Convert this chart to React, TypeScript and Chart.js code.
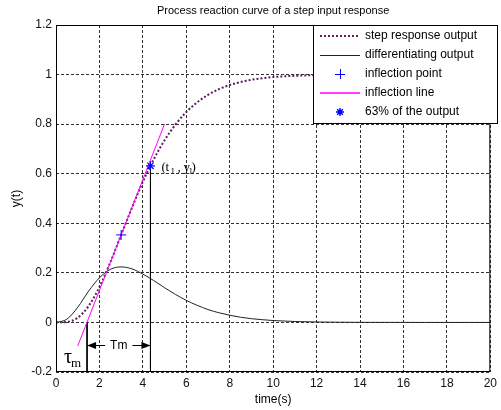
import React, { useEffect, useRef } from "react";
import { Chart, registerables } from "chart.js";

Chart.register(...registerables);

// ---- data ----
const timeValues = [0, 0.5, 1, 1.5, 2, 2.5, 3, 3.5, 4, 4.5, 5, 5.5, 6, 6.5, 7, 7.5, 8, 8.5, 9, 9.5, 10, 11, 12, 13, 14, 15, 16, 17, 18, 19, 20];
const stepResponse = [0, 0.002, 0.019, 0.066, 0.143, 0.242, 0.353, 0.463, 0.567, 0.658, 0.735, 0.798, 0.849, 0.888, 0.918, 0.941, 0.958, 0.970, 0.979, 0.985, 0.990, 0.995, 0.998, 0.999, 0.9995, 0.9998, 0.9999, 1, 1, 1, 1];
const diffOutput = [0, 0.013, 0.061, 0.126, 0.180, 0.214, 0.224, 0.216, 0.195, 0.169, 0.140, 0.113, 0.089, 0.069, 0.052, 0.039, 0.029, 0.021, 0.015, 0.011, 0.0076, 0.0037, 0.0018, 0.0008, 0.0004, 0.0002, 0.0001, 0, 0, 0, 0];
const inflectionT = [3];
const inflectionY = [0.353];
const inflectionLineT = [1, 5];
const inflectionLineY = [-0.095, 0.801];
const point63T = [4.35];
const point63Y = [0.632];
const tauMT = [1.43, 1.43];
const tauMY = [0, -0.2];
const t1LineT = [4.35, 4.35];
const t1LineY = [0.632, -0.2];
const tmArrowY = -0.09;
const xTicks = [0, 2, 4, 6, 8, 10, 12, 14, 16, 18, 20];
const xTickLabels = ["0", "2", "4", "6", "8", "10", "12", "14", "16", "18", "20"];
const yTicks = [-0.2, 0, 0.2, 0.4, 0.6, 0.8, 1, 1.2];
const yTickLabels = ["-0.2", "0", "0.2", "0.4", "0.6", "0.8", "1", "1.2"];
const legendLabels = ["step response output", "differentiating output", "inflection point", "inflection line", "63% of the output"];
const titleText = "Process reaction curve of a step input response";
const xTitle = "time(s)";
const yTitle = "y(t)";

const SANS = '"Liberation Sans", Arial, sans-serif';
const SERIF = '"Liberation Serif", "Times New Roman", serif';
const PURPLE = "#5a1f5a";
const BLUE = "#0000ff";
const MAGENTA = "#ff00ff";
const BLACK = "#000000";
const CURVE = "#222222";

const zip = (xs: number[], ys: number[]) => xs.map((v, i) => ({ x: v, y: ys[i] }));

const annotPlugin = {
  id: "annot",
  afterDatasetsDraw(chart: any) {
    const { ctx, chartArea } = chart;
    const x = chart.scales.x;
    const y = chart.scales.y;
    ctx.save();
    ctx.setLineDash([]);
    // frame
    ctx.strokeStyle = "#000";
    ctx.lineWidth = 1;
    ctx.strokeRect(chartArea.left + 0.5, chartArea.top + 0.5, chartArea.width - 1, chartArea.height - 1);

    // Tm arrow
    const ya = Math.round(y.getPixelForValue(tmArrowY)) + 0.5;
    const xl = x.getPixelForValue(tauMT[0]);
    const xr = x.getPixelForValue(t1LineT[0]);
    const xm = (xl + xr) / 2;
    ctx.font = `12px ${SANS}`;
    const w = ctx.measureText("Tm").width;
    ctx.strokeStyle = BLACK;
    ctx.fillStyle = BLACK;
    ctx.beginPath();
    ctx.moveTo(xl, ya);
    ctx.lineTo(xm - w / 2 - 5, ya);
    ctx.moveTo(xm + w / 2 + 5, ya);
    ctx.lineTo(xr, ya);
    ctx.stroke();
    ctx.beginPath();
    ctx.moveTo(xl, ya);
    ctx.lineTo(xl + 9, ya - 3.5);
    ctx.lineTo(xl + 9, ya + 3.5);
    ctx.closePath();
    ctx.fill();
    ctx.beginPath();
    ctx.moveTo(xr, ya);
    ctx.lineTo(xr - 9, ya - 3.5);
    ctx.lineTo(xr - 9, ya + 3.5);
    ctx.closePath();
    ctx.fill();
    ctx.textAlign = "center";
    ctx.textBaseline = "middle";
    ctx.fillText("Tm", xm, ya);

    // tau_m label
    ctx.textAlign = "left";
    ctx.textBaseline = "alphabetic";
    const tx = xl - 23;
    const tb = y.getPixelForValue(-0.2) - 9;
    ctx.font = `20px ${SERIF}`;
    ctx.fillText("\u03c4", tx, tb);
    const tw = ctx.measureText("\u03c4").width;
    ctx.font = `13px ${SERIF}`;
    ctx.fillText("m", tx + tw - 1, tb + 4);

    // (t1 , y1) label
    const px = x.getPixelForValue(point63T[0]) + 11;
    const pb = y.getPixelForValue(point63Y[0]) + 5;
    const parts: [string, number, boolean][] = [
      ["(", 0, false],
      ["t", 4, false],
      ["1", 9, true],
      [",", 16, false],
      ["y", 22, false],
      ["1", 27, true],
      [")", 30, false],
    ];
    for (const [s, off, sub] of parts) {
      ctx.font = sub ? `9px ${SERIF}` : `13px ${SERIF}`;
      ctx.fillText(s, px + off, sub ? pb + 3 : pb);
    }
    ctx.restore();
  },
  afterDraw(chart: any) {
    const { ctx, chartArea } = chart;
    ctx.save();
    ctx.setLineDash([]);
    // title & axis titles
    ctx.fillStyle = "#000";
    ctx.font = `11px ${SANS}`;
    ctx.textAlign = "center";
    ctx.textBaseline = "middle";
    ctx.fillText(titleText, (chartArea.left + chartArea.right) / 2, 11);
    ctx.font = `12px ${SANS}`;
    ctx.fillText(xTitle, (chartArea.left + chartArea.right) / 2, 400);
    ctx.save();
    ctx.translate(17, (chartArea.top + chartArea.bottom) / 2);
    ctx.rotate(-Math.PI / 2);
    ctx.fillText(yTitle, 0, 0);
    ctx.restore();

    // legend
    const lx = 313.5, ly = chartArea.top + 0.5, lw = 184, lh = 98;
    ctx.fillStyle = "#fff";
    ctx.fillRect(lx, ly, lw, lh);
    ctx.strokeStyle = "#000";
    ctx.lineWidth = 1;
    ctx.strokeRect(lx, ly, lw, lh);
    const rows = [36, 55, 74, 93, 112];
    ctx.font = `12px ${SANS}`;
    ctx.textAlign = "left";
    ctx.textBaseline = "middle";
    rows.forEach((ry, i) => {
      const s0 = 320, s1 = 360, sm = 340;
      ctx.setLineDash([]);
      if (i === 0) {
        ctx.strokeStyle = PURPLE;
        ctx.lineWidth = 2;
        ctx.setLineDash([2, 2]);
        ctx.beginPath(); ctx.moveTo(s0, ry); ctx.lineTo(s1, ry); ctx.stroke();
      } else if (i === 1) {
        ctx.strokeStyle = CURVE;
        ctx.lineWidth = 1;
        ctx.beginPath(); ctx.moveTo(s0, ry + 0.5); ctx.lineTo(s1, ry + 0.5); ctx.stroke();
      } else if (i === 2) {
        ctx.strokeStyle = BLUE;
        ctx.lineWidth = 1;
        ctx.beginPath();
        ctx.moveTo(sm - 5, ry + 0.5); ctx.lineTo(sm + 5, ry + 0.5);
        ctx.moveTo(sm + 0.5, ry - 5); ctx.lineTo(sm + 0.5, ry + 5);
        ctx.stroke();
      } else if (i === 3) {
        ctx.strokeStyle = MAGENTA;
        ctx.lineWidth = 1.5;
        ctx.beginPath(); ctx.moveTo(s0, ry); ctx.lineTo(s1, ry); ctx.stroke();
      } else {
        ctx.strokeStyle = BLUE;
        ctx.lineWidth = 1.5;
        ctx.beginPath();
        for (let k = 0; k < 4; k++) {
          const a = (k * Math.PI) / 4;
          ctx.moveTo(sm - 4 * Math.cos(a), ry - 4 * Math.sin(a));
          ctx.lineTo(sm + 4 * Math.cos(a), ry + 4 * Math.sin(a));
        }
        ctx.stroke();
      }
      ctx.fillStyle = "#000";
      ctx.fillText(legendLabels[i], 365, ry);
    });
    ctx.restore();
  },
};

export default function App() {
  const canvasRef = useRef<HTMLCanvasElement | null>(null);

  useEffect(() => {
    const canvas = canvasRef.current;
    if (!canvas) return;
    const chart = new Chart(canvas, {
      type: "scatter",
      data: {
        datasets: [
          {
            label: legendLabels[0],
            data: zip(timeValues, stepResponse),
            showLine: true,
            borderColor: PURPLE,
            borderWidth: 2,
            borderDash: [2, 2],
            pointRadius: 0,
            cubicInterpolationMode: "monotone",
            order: 2,
          },
          {
            label: legendLabels[1],
            data: zip(timeValues, diffOutput),
            showLine: true,
            borderColor: CURVE,
            borderWidth: 1,
            pointRadius: 0,
            cubicInterpolationMode: "monotone",
            order: 3,
          },
          {
            label: legendLabels[3],
            data: zip(inflectionLineT, inflectionLineY),
            showLine: true,
            borderColor: MAGENTA,
            borderWidth: 1,
            pointRadius: 0,
            order: 1,
          },
          {
            label: "tau_m",
            data: zip(tauMT, tauMY),
            showLine: true,
            borderColor: BLACK,
            borderWidth: 1,
            pointRadius: 0,
            order: 1,
          },
          {
            label: "t1",
            data: zip(t1LineT, t1LineY),
            showLine: true,
            borderColor: BLACK,
            borderWidth: 1,
            pointRadius: 0,
            order: 1,
          },
          {
            label: legendLabels[2],
            data: zip(inflectionT, inflectionY),
            showLine: false,
            pointStyle: "cross",
            pointRadius: 5,
            borderColor: BLUE,
            backgroundColor: BLUE,
            borderWidth: 1,
            order: 0,
          },
          {
            label: legendLabels[4],
            data: zip(point63T, point63Y),
            showLine: false,
            pointStyle: "star",
            pointRadius: 4.5,
            borderColor: BLUE,
            backgroundColor: BLUE,
            borderWidth: 1.2,
            order: 0,
          },
        ],
      },
      options: {
        responsive: false,
        animation: false,
        events: [],
        layout: { padding: { top: 25, right: 3, left: 0, bottom: 0 } },
        plugins: {
          legend: { display: false },
          title: { display: false },
          tooltip: { enabled: false },
        },
        scales: {
          x: {
            type: "linear",
            min: 0,
            max: 20,
            afterBuildTicks: (scale: any) => {
              scale.ticks = xTicks.map((v) => ({ value: v }));
            },
            afterFit: (scale: any) => {
              scale.height = 38;
            },
            ticks: {
              padding: 4,
              color: "#111",
              font: { family: SANS, size: 12 },
              maxRotation: 0,
              autoSkip: false,
              callback: (_v: any, i: number) => xTickLabels[i],
            },
            grid: { color: "#333", lineWidth: 1, drawTicks: false },
            border: { display: false, dash: [3, 2] },
          },
          y: {
            type: "linear",
            min: -0.2,
            max: 1.2,
            afterBuildTicks: (scale: any) => {
              scale.ticks = yTicks.map((v) => ({ value: v }));
            },
            afterFit: (scale: any) => {
              scale.width = 56;
            },
            ticks: {
              padding: 4,
              color: "#111",
              font: { family: SANS, size: 12 },
              autoSkip: false,
              callback: (_v: any, i: number) => yTickLabels[i],
            },
            grid: { color: "#333", lineWidth: 1, drawTicks: false },
            border: { display: false, dash: [3, 2] },
          },
        },
      },
      plugins: [annotPlugin],
    } as any);
    return () => chart.destroy();
  }, []);

  return (
    <div style={{ position: "absolute", left: 0, top: 0, width: 501, height: 410, background: "#fff" }}>
      <canvas ref={canvasRef} width={501} height={410} style={{ display: "block", width: 501, height: 410 }} />
    </div>
  );
}
